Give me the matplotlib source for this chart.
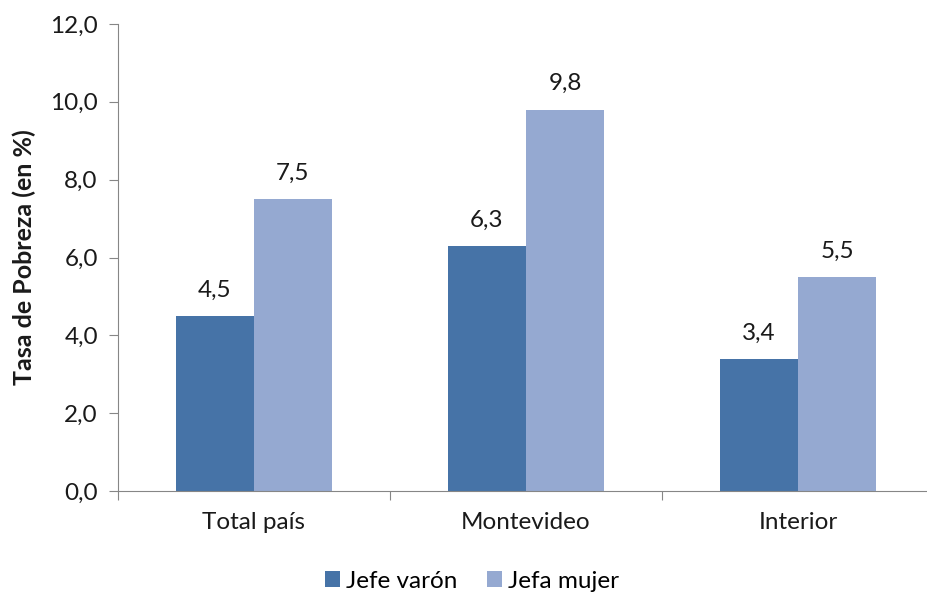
import matplotlib
matplotlib.use("Agg")
import matplotlib.pyplot as plt
import numpy as np

categories = ["Total país", "Montevideo", "Interior"]
jefe_varon = [4.5, 6.3, 3.4]
jefa_mujer = [7.5, 9.8, 5.5]
series_names = ["Jefe varón", "Jefa mujer"]
yticks = [0, 2, 4, 6, 8, 10, 12]

plt.rcParams['font.family'] = ['Lato', 'DejaVu Sans']
W, H = 928, 593
fig = plt.figure(figsize=(W/100, H/100), dpi=100)
ax = fig.add_axes([118/W, (H-491)/H, 816/W, 467/H])

FS = 17.5
x = np.arange(len(categories))
bw = 78/272
c1, c2 = "#4673A7", "#95A9D1"
b1 = ax.bar(x - bw/2, jefe_varon, bw, color=c1, label=series_names[0])
b2 = ax.bar(x + bw/2, jefa_mujer, bw, color=c2, label=series_names[1])
for bars, vals in ((b1, jefe_varon), (b2, jefa_mujer)):
    for r, v in zip(bars, vals):
        ax.annotate(f"{v:.1f}".replace(".", ","), (r.get_x() + r.get_width()/2, v),
                    xytext=(0, 11), textcoords="offset points", ha="center", va="bottom",
                    fontsize=FS, color="#1a1a1a")

ax.set_xlim(-0.5, 2.5)
ax.set_ylim(0, 12)
ax.set_yticks(yticks)
ax.set_yticklabels([f"{t:.1f}".replace(".", ",") for t in yticks], fontsize=FS, color="#1a1a1a")
ax.set_xticks([-0.5, 0.5, 1.5])
ax.set_xticklabels([])
ax.set_xticks(x, minor=True)
ax.set_xticklabels(categories, minor=True, fontsize=FS, color="#1a1a1a")
ax.tick_params(axis='x', which='minor', length=0, pad=15)
ax.tick_params(axis='x', which='major', length=6.5, color="#868686", direction='out')
ax.tick_params(axis='y', length=6.5, color="#868686", direction='out', pad=8)
for s in ("top", "right"):
    ax.spines[s].set_visible(False)
for s in ("left", "bottom"):
    ax.spines[s].set_color("#868686")
ax.set_ylabel("Tasa de Pobreza (en %)", fontsize=18, fontweight="bold", labelpad=10,
              color="#1a1a1a")

ax.legend(loc="center", bbox_to_anchor=(472/W, (H-581)/H), bbox_transform=fig.transFigure,
          ncol=2, frameon=False, fontsize=FS, handlelength=0.62, handleheight=0.62,
          handletextpad=0.25, columnspacing=1.2, borderpad=0)
fig.savefig("out.png", dpi=100)
